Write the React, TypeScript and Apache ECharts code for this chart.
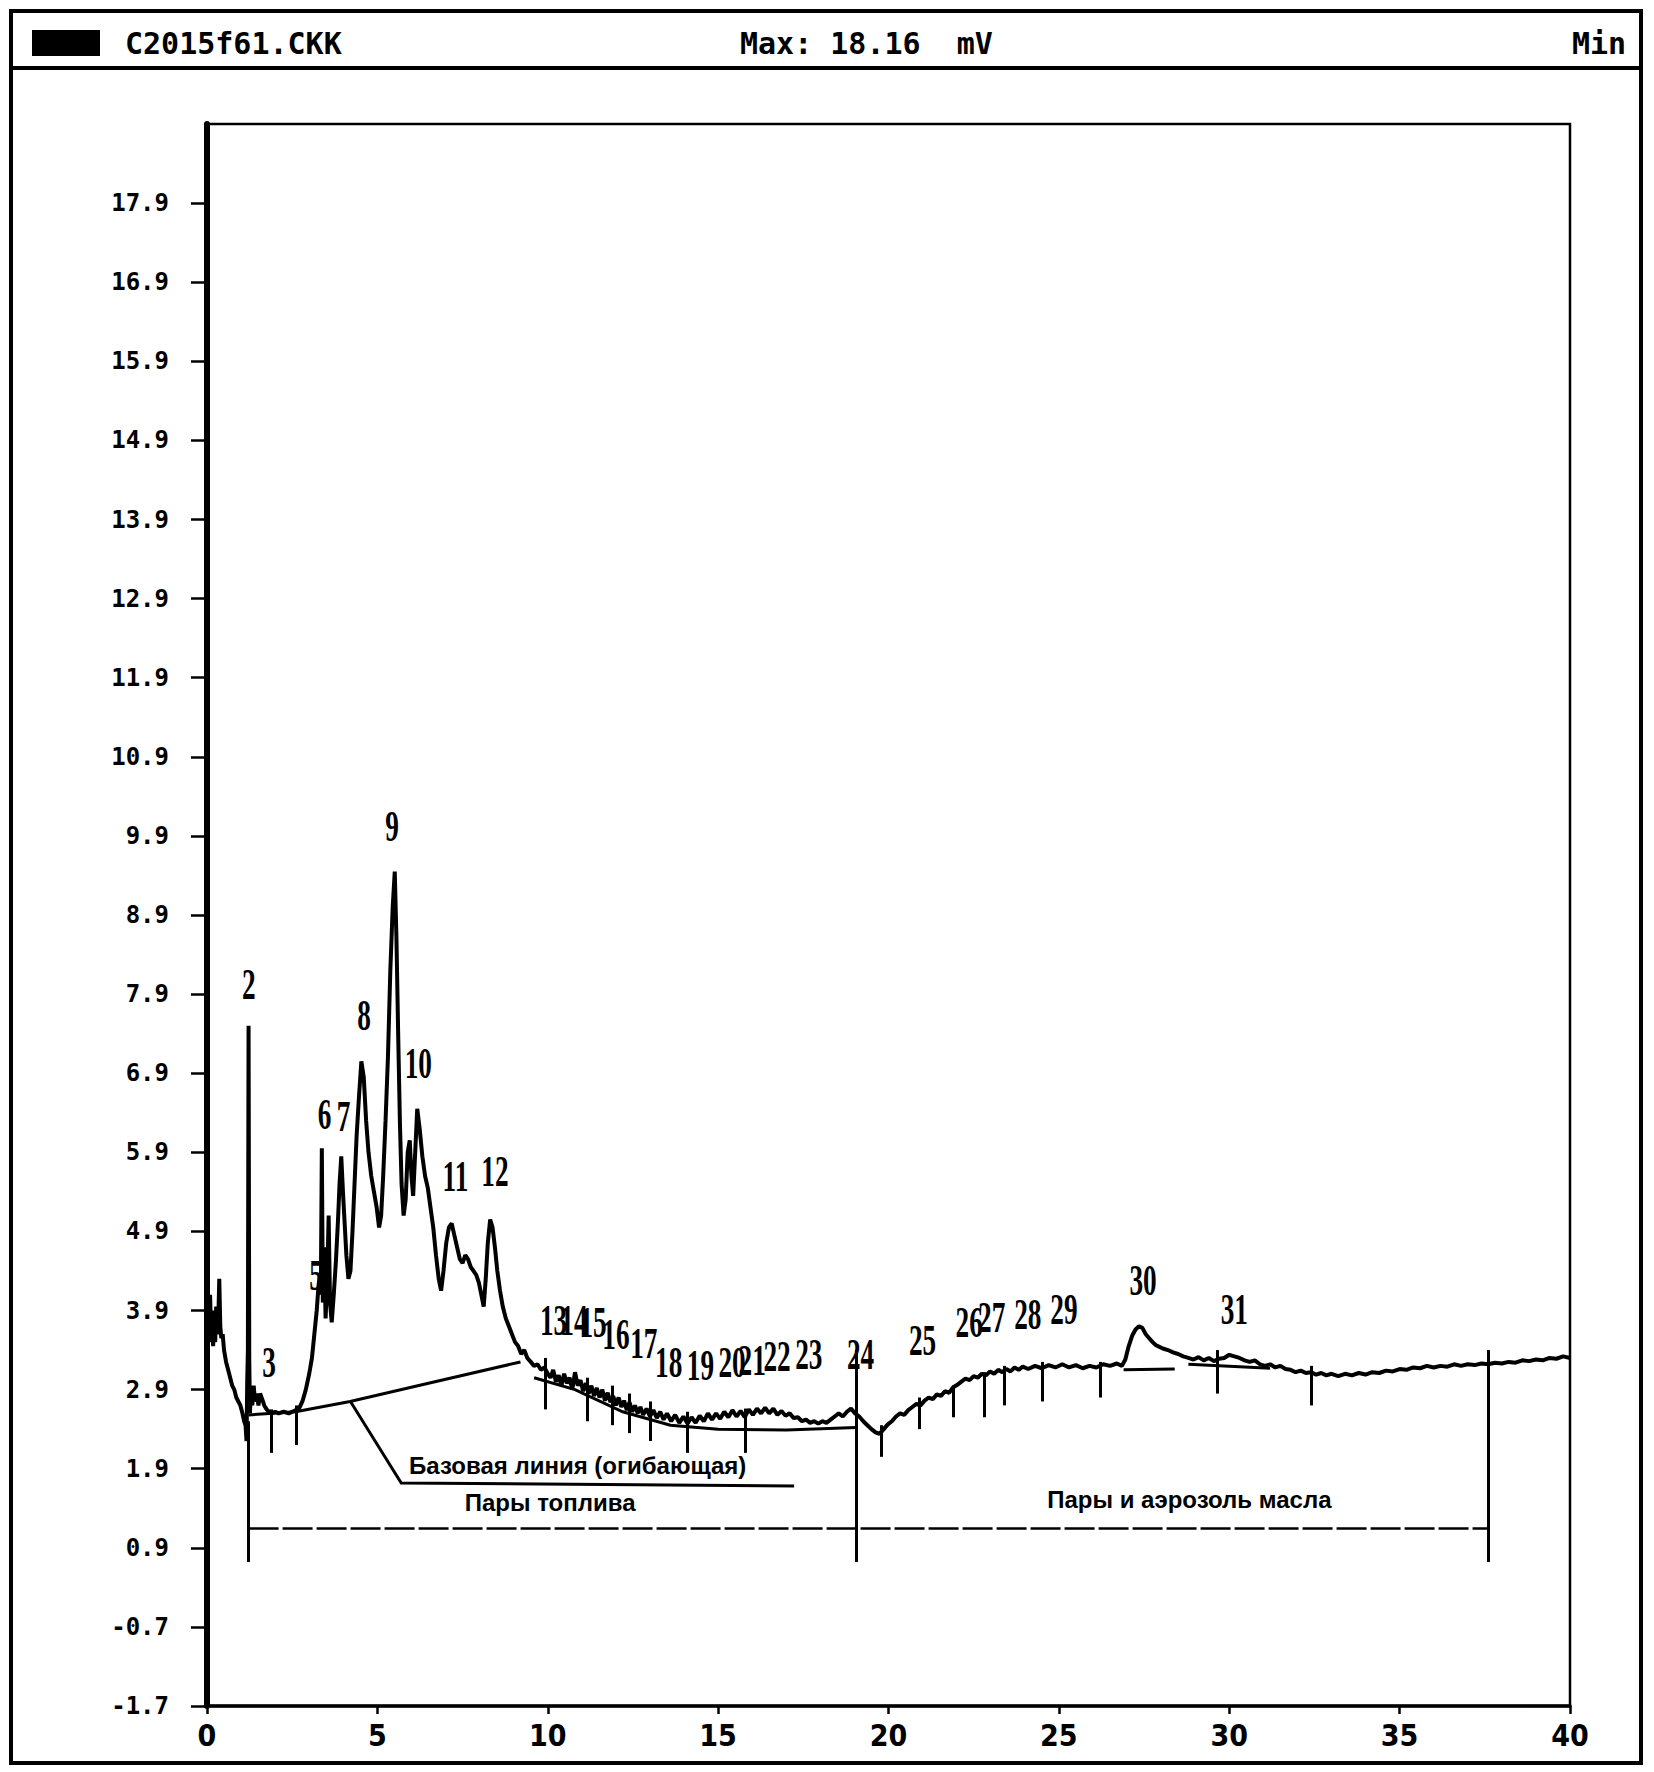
import React, { useEffect, useRef } from "react";
import * as echarts from "echarts";

// ---------- data ----------
const xTicks = [0, 5, 10, 15, 20, 25, 30, 35, 40];
const yTickValues = [-1.1, -0.1, 0.9, 1.9, 2.9, 3.9, 4.9, 5.9, 6.9, 7.9, 8.9, 9.9, 10.9, 11.9, 12.9, 13.9, 14.9, 15.9, 16.9, 17.9];
const yTickLabels = ["-1.7", "-0.7", "0.9", "1.9", "2.9", "3.9", "4.9", "5.9", "6.9", "7.9", "8.9", "9.9", "10.9", "11.9", "12.9", "13.9", "14.9", "15.9", "16.9", "17.9"];

const signal: [number, number][] = [
  [0.00,3.4],[0.03,4.0],[0.06,3.5],[0.09,4.1],[0.12,3.6],[0.15,3.9],[0.18,3.45],[0.21,3.8],[0.24,3.5],[0.27,3.95],[0.30,3.6],[0.33,3.75],[0.36,4.3],[0.39,3.7],[0.42,3.55],[0.46,3.6],[0.50,3.4],[0.56,3.25],[0.62,3.15],[0.68,3.05],[0.74,2.95],[0.80,2.9],[0.86,2.8],[0.92,2.75],[0.98,2.7],[1.04,2.6],[1.09,2.5],[1.13,2.45],[1.16,2.25],[1.18,3.0],[1.20,3.4],[1.22,7.5],[1.24,3.3],[1.26,2.6],[1.29,2.9],[1.33,2.7],[1.37,2.95],[1.41,2.75],[1.46,2.85],[1.51,2.7],[1.56,2.85],[1.62,2.78],[1.68,2.7],[1.75,2.65],[1.82,2.62],[1.90,2.6],[2.00,2.62],[2.10,2.6],[2.25,2.62],[2.40,2.6],[2.55,2.63],[2.70,2.66],[2.80,2.75],[2.90,2.9],[3.00,3.1],[3.08,3.3],[3.15,3.6],[3.22,3.9],[3.27,4.2],[3.31,4.35],[3.34,4.1],[3.37,5.95],[3.40,4.0],[3.44,4.7],[3.48,3.8],[3.53,4.3],[3.57,5.1],[3.61,4.0],[3.66,3.75],[3.72,4.1],[3.78,4.5],[3.84,5.0],[3.89,5.5],[3.94,5.85],[3.99,5.4],[4.04,5.0],[4.09,4.6],[4.15,4.3],[4.21,4.4],[4.27,4.9],[4.33,5.5],[4.39,6.1],[4.46,6.6],[4.53,7.05],[4.60,6.85],[4.67,6.3],[4.74,5.9],[4.82,5.6],[4.90,5.4],[4.98,5.2],[5.05,4.95],[5.11,5.1],[5.17,5.6],[5.24,6.3],[5.31,7.1],[5.38,8.2],[5.45,9.0],[5.51,9.45],[5.56,8.6],[5.61,7.4],[5.66,6.3],[5.71,5.5],[5.77,5.1],[5.83,5.3],[5.89,5.9],[5.95,6.05],[6.00,5.6],[6.05,5.35],[6.11,5.9],[6.17,6.45],[6.24,6.2],[6.32,5.85],[6.40,5.6],[6.48,5.45],[6.56,5.2],[6.64,4.95],[6.72,4.6],[6.80,4.3],[6.87,4.15],[6.94,4.4],[7.02,4.75],[7.10,4.95],[7.18,5.0],[7.26,4.85],[7.34,4.7],[7.42,4.55],[7.50,4.5],[7.58,4.6],[7.66,4.55],[7.74,4.45],[7.82,4.4],[7.90,4.35],[7.98,4.25],[8.05,4.1],[8.12,3.95],[8.18,4.3],[8.24,4.75],[8.31,5.05],[8.38,4.95],[8.45,4.7],[8.52,4.4],[8.60,4.15],[8.68,3.95],[8.77,3.8],[8.86,3.7],[8.95,3.6],[9.04,3.5],[9.13,3.45],[9.22,3.35],[9.31,3.4],[9.40,3.3],[9.50,3.25],[9.60,3.2],[9.70,3.22],[9.80,3.15],[9.90,3.18],[10.00,3.1],
  [10.08,3.05],[10.16,3.15],[10.24,3.0],[10.32,3.08],[10.40,2.95],[10.48,3.1],[10.56,2.98],[10.64,3.05],[10.72,2.9],[10.80,3.12],[10.88,2.95],[10.96,3.02],[11.04,2.88],[11.12,2.98],[11.20,2.85],[11.28,2.95],[11.36,2.82],[11.44,2.92],[11.52,2.8],[11.60,2.9],[11.68,2.76],[11.76,2.86],[11.84,2.74],[11.92,2.82],[12.00,2.7],[12.08,2.8],[12.16,2.68],[12.24,2.76],[12.32,2.64],[12.40,2.74],[12.48,2.62],[12.56,2.7],[12.64,2.6],[12.72,2.68],[12.80,2.58],[12.90,2.66],[13.00,2.56],[13.10,2.64],[13.20,2.54],[13.30,2.62],[13.40,2.52],[13.50,2.6],[13.62,2.5],[13.74,2.58],[13.86,2.48],[13.98,2.56],[14.10,2.47],[14.22,2.55],[14.34,2.48],[14.46,2.57],[14.58,2.5],[14.70,2.6],[14.82,2.52],[14.94,2.6],[15.06,2.53],[15.18,2.62],[15.30,2.55],[15.42,2.64],[15.54,2.56],[15.66,2.63],[15.78,2.55],[15.90,2.65],[16.02,2.58],[16.14,2.66],[16.26,2.6],[16.38,2.67],[16.50,2.6],[16.62,2.66],[16.74,2.58],[16.86,2.63],[16.98,2.57],[17.10,2.6],[17.22,2.54],[17.34,2.55],[17.46,2.5],[17.58,2.52],[17.70,2.48],[17.82,2.5],[17.94,2.47],[18.06,2.5],[18.18,2.48],[18.30,2.52],[18.42,2.56],[18.54,2.6],[18.66,2.56],[18.78,2.62],[18.90,2.66],[19.02,2.6],[19.14,2.56],[19.26,2.5],[19.38,2.45],[19.50,2.4],[19.62,2.36],[19.74,2.34],[19.86,2.4],[19.98,2.46],
  [20.10,2.5],[20.22,2.56],[20.34,2.6],[20.46,2.58],[20.58,2.64],[20.70,2.68],[20.82,2.72],[20.94,2.7],[21.06,2.76],[21.18,2.8],[21.30,2.78],[21.42,2.84],[21.54,2.82],[21.66,2.88],[21.78,2.86],[21.90,2.93],[22.02,2.96],[22.14,3.0],[22.26,3.04],[22.38,3.02],[22.50,3.07],[22.62,3.05],[22.74,3.1],[22.86,3.08],[22.98,3.13],[23.10,3.1],[23.22,3.15],[23.34,3.12],[23.46,3.16],[23.58,3.13],[23.70,3.18],[23.82,3.15],[23.94,3.19],[24.1,3.16],[24.3,3.2],[24.5,3.17],[24.7,3.21],[24.9,3.18],[25.1,3.22],[25.3,3.18],[25.5,3.21],[25.7,3.17],[25.9,3.2],[26.1,3.18],[26.3,3.22],[26.5,3.2],[26.7,3.23],[26.85,3.2],[26.95,3.28],[27.05,3.45],[27.15,3.58],[27.25,3.66],[27.35,3.7],[27.45,3.68],[27.55,3.6],[27.65,3.55],[27.75,3.5],[27.85,3.46],[27.95,3.44],[28.05,3.42],[28.2,3.4],[28.35,3.37],[28.5,3.35],[28.65,3.32],[28.8,3.3],[28.95,3.28],[29.1,3.31],[29.25,3.27],[29.4,3.3],[29.55,3.26],[29.7,3.29],[29.85,3.3],[30.0,3.34],[30.15,3.32],[30.3,3.3],[30.45,3.27],[30.6,3.25],[30.75,3.27],[30.9,3.22],[31.05,3.2],[31.2,3.22],[31.35,3.18],[31.5,3.2],[31.65,3.16],[31.8,3.15],[31.95,3.12],[32.1,3.14],[32.25,3.11],[32.4,3.12],[32.55,3.09],[32.7,3.11],[32.85,3.08],[33.0,3.1],[33.2,3.07],[33.4,3.1],[33.6,3.08],[33.8,3.11],[34.0,3.09],[34.2,3.12],[34.4,3.11],[34.6,3.14],[34.8,3.13],[35.0,3.16],[35.2,3.15],[35.4,3.18],[35.6,3.17],[35.8,3.2],[36.0,3.18],[36.2,3.2],[36.4,3.19],[36.6,3.22],[36.8,3.2],[37.0,3.22],[37.2,3.21],[37.4,3.23],[37.6,3.22],[37.8,3.24],[38.0,3.23],[38.2,3.25],[38.4,3.24],[38.6,3.27],[38.8,3.26],[39.0,3.28],[39.2,3.27],[39.4,3.3],[39.6,3.29],[39.8,3.32],[40.0,3.3]
];

// baseline (envelope) segments
const baselineSegments: [number, number][][] = [
  [[1.22,2.58],[2.6,2.62],[4.2,2.75],[6.5,2.98],[9.2,3.25]],
  [[9.6,3.05],[10.8,2.9],[12.2,2.62],[13.6,2.45],[15.0,2.4],[17.0,2.39],[19.05,2.42]],
  [[26.9,3.15],[28.4,3.16]],
  [[28.8,3.22],[31.2,3.17]]
];

// peak cut markers: [time, top, bottom]
const peakTicks: [number, number, number][] = [
  [1.9,2.65,2.1],[2.63,2.7,2.2],[9.94,3.3,2.65],[11.17,3.05,2.5],[11.9,2.95,2.45],[12.4,2.85,2.35],[13.0,2.75,2.25],[14.08,2.62,2.1],[15.8,2.66,2.1],[19.8,2.45,2.05],[20.9,2.8,2.4],[21.9,2.95,2.55],[22.8,3.12,2.55],[23.4,3.2,2.7],[24.5,3.25,2.75],[26.2,3.25,2.8],[29.66,3.4,2.85],[32.4,3.2,2.7]
];

// peak number labels: [text, time, value]
const peakLabels: [string, number, number][] = [
  ["2",1.23,8.03],["3",1.82,3.25],["5",3.2,4.35],["6",3.45,6.39],["7",4.01,6.36],["8",4.61,7.64],["9",5.43,10.03],["10",6.2,7.03],["11",7.29,5.6],["12",8.45,5.67],
  ["13",10.17,3.78],["14",10.77,3.78],["15",11.33,3.75],["16",12.0,3.6],["17",12.82,3.49],["18",13.55,3.25],["19",14.48,3.21],["20",15.41,3.25],["21",16.0,3.28],["22",16.73,3.32],["23",17.66,3.35],
  ["24",19.18,3.35],["25",21.0,3.53],["26",22.37,3.75],["27",23.03,3.82],["28",24.09,3.85],["29",25.15,3.92],["30",27.47,4.28],["31",30.15,3.92]
];

// section boundaries
const sectionTimes = [1.22, 19.05, 37.6];
const sectionTops = [2.5, 3.4, 3.4];
const sectionBottom = 0.72;
const dimensionLevel = 1.15;

// annotation pointer + underline
const pointerLine: [number, number][] = [[4.21,2.75],[5.7,1.72],[17.23,1.68]];
const baseLabel = { text: "Базовая линия (огибающая)", t: 5.93, v: 1.94 };
const sectionLabels: [string, number, number][] = [
  ["Пары топлива", 10.07, 1.47],
  ["Пары и аэрозоль масла", 28.83, 1.51]
];

const headerFile = "C2015f61.CKK";
const headerMax = "Max: 18.16  mV";
const headerRight = "Min";

export default function App() {
  const ref = useRef<HTMLDivElement>(null);
  useEffect(() => {
    const chart = echarts.init(ref.current!, null, { renderer: "svg" });
    const lineData: any[] = [];
    peakTicks.forEach(([t, a, b]) => lineData.push({ coords: [[t, a], [t, b]] }));
    sectionTimes.forEach((t, i) => lineData.push({ coords: [[t, sectionTops[i]], [t, sectionBottom]] }));
    chart.setOption({
      animation: false,
      backgroundColor: "#fff",
      grid: { left: 207, top: 124, width: 1363, height: 1582, show: true, borderColor: "#000", borderWidth: 2.5, backgroundColor: "transparent" },
      xAxis: {
        type: "value", min: 0, max: 40, interval: 5,
        axisLine: { show: true, onZero: false, lineStyle: { color: "#000", width: 3.5 } },
        axisTick: { show: true, length: 8, lineStyle: { color: "#000", width: 2.5 } },
        axisLabel: {
          show: true, margin: 14, color: "#000", fontSize: 30, fontWeight: "bold",
          fontFamily: '"Liberation Sans Narrow", "DejaVu Sans Condensed", "Liberation Sans", sans-serif',
          showMinLabel: true, showMaxLabel: true,
          formatter: (v: number) => { const i = xTicks.indexOf(Math.round(v)); return i >= 0 ? String(xTicks[i]) : ""; }
        },
        splitLine: { show: false }
      },
      yAxis: {
        type: "value", min: -1.1, max: 18.9,
        axisLine: { show: true, onZero: false, lineStyle: { color: "#000", width: 6 } },
        axisTick: { show: true, length: 16, customValues: yTickValues, lineStyle: { color: "#000", width: 2.5 } },
        axisLabel: {
          show: true, margin: 38, color: "#000", fontSize: 24, fontWeight: "bold",
          fontFamily: '"DejaVu Sans Mono", monospace',
          customValues: yTickValues,
          formatter: (v: number) => { const i = yTickValues.findIndex((x) => Math.abs(x - v) < 1e-6); return i >= 0 ? yTickLabels[i] : ""; }
        },
        splitLine: { show: false }
      },
      series: [
        { type: "line", data: signal, showSymbol: false, symbol: "none", lineStyle: { color: "#000", width: 4 }, z: 5, silent: true },
        { type: "lines", coordinateSystem: "cartesian2d", polyline: true, data: baselineSegments.map((s) => ({ coords: s })), lineStyle: { color: "#000", width: 3, opacity: 1 }, z: 4, silent: true },
        { type: "lines", coordinateSystem: "cartesian2d", data: lineData, lineStyle: { color: "#000", width: 3, opacity: 1 }, z: 4, silent: true },
        { type: "lines", coordinateSystem: "cartesian2d", data: [{ coords: [[sectionTimes[0], dimensionLevel], [sectionTimes[2], dimensionLevel]] }], lineStyle: { color: "#000", width: 2.5, type: [30, 4], opacity: 1 }, z: 4, silent: true },
        { type: "lines", coordinateSystem: "cartesian2d", polyline: true, data: [{ coords: pointerLine }], lineStyle: { color: "#000", width: 3, opacity: 1 }, z: 4, silent: true }
      ]
    });

    const px = (t: number, v: number) => chart.convertToPixel({ gridIndex: 0 } as any, [t, v]) as number[];
    const els: any[] = [
      { type: "rect", shape: { x: 11, y: 11, width: 1630, height: 1752 }, style: { fill: "none", stroke: "#000", lineWidth: 4 }, z: 10 },
      { type: "line", shape: { x1: 11, y1: 68, x2: 1641, y2: 68 }, style: { stroke: "#000", lineWidth: 4 }, z: 10 },
      { type: "rect", shape: { x: 32, y: 30, width: 68, height: 26 }, style: { fill: "#000" }, z: 10 },
      { type: "text", x: 125, y: 43, style: { text: headerFile, fontFamily: '"DejaVu Sans Mono", monospace', fontWeight: "bold", fontSize: 30, fill: "#000", textAlign: "left", textVerticalAlign: "middle" }, z: 10 },
      { type: "text", x: 740, y: 43, style: { text: headerMax, fontFamily: '"DejaVu Sans Mono", monospace', fontWeight: "bold", fontSize: 30, fill: "#000", textAlign: "left", textVerticalAlign: "middle" }, z: 10 },
      { type: "text", x: 1572, y: 43, style: { text: headerRight, fontFamily: '"DejaVu Sans Mono", monospace', fontWeight: "bold", fontSize: 30, fill: "#000", textAlign: "left", textVerticalAlign: "middle" }, z: 10 }
    ];
    peakLabels.forEach(([txt, t, v]) => {
      const [x, y] = px(t, v);
      els.push({ type: "text", x, y, scaleX: 0.62, style: { text: txt, fontFamily: '"Liberation Serif", serif', fontWeight: "bold", fontSize: 44, fill: "#000", textAlign: "center", textVerticalAlign: "middle" }, z: 10 });
    });
    {
      const [x, y] = px(baseLabel.t, baseLabel.v);
      els.push({ type: "text", x, y, style: { text: baseLabel.text, fontFamily: '"Liberation Sans", Arial, sans-serif', fontWeight: "bold", fontSize: 24, fill: "#000", textAlign: "left", textVerticalAlign: "middle" }, z: 10 });
    }
    sectionLabels.forEach(([txt, t, v]) => {
      const [x, y] = px(t, v);
      els.push({ type: "text", x, y, style: { text: txt, fontFamily: '"Liberation Sans", Arial, sans-serif', fontWeight: "bold", fontSize: 24, fill: "#000", textAlign: "center", textVerticalAlign: "middle" }, z: 10 });
    });
    chart.setOption({ graphic: { elements: els } });
    return () => chart.dispose();
  }, []);
  return <div ref={ref} style={{ position: "fixed", left: 0, top: 0, width: 1654, height: 1772, background: "#fff" }} />;
}
